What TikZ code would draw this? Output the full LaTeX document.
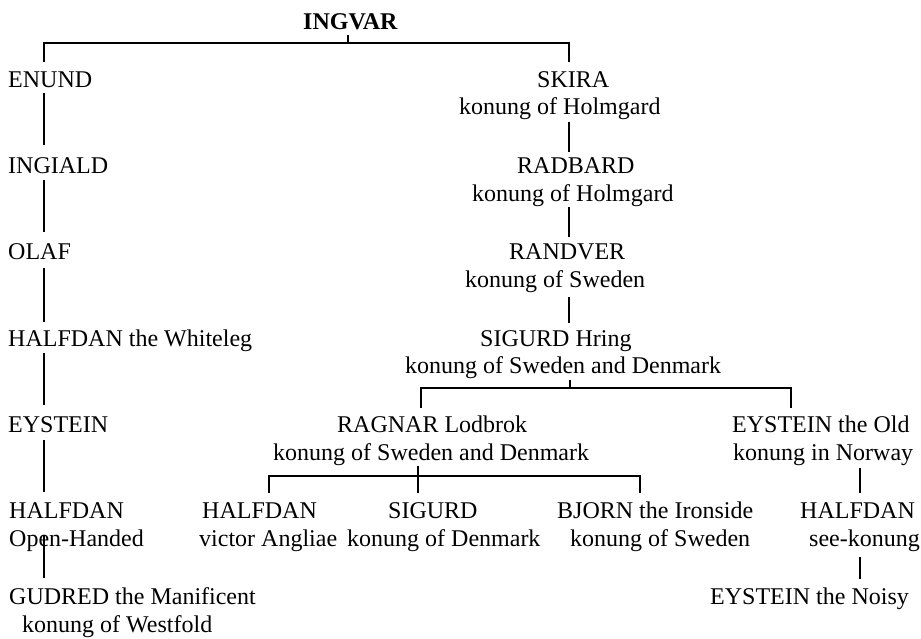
\documentclass[tikz,border=0pt]{standalone}
\usepackage{fontspec}
\setmainfont{Liberation Serif}
\usetikzlibrary{calc}
\begin{document}
\begin{tikzpicture}[x=1pt,y=-1pt,
  txt/.style={anchor=base west,inner sep=0pt,font=\fontsize{24}{28}\selectfont},
  conn/.style={draw=black,line width=1.9pt}]
\useasboundingbox[fill=white] (0,0) rectangle (921,638);
% rows of baselines: 87,173,259,346,432,518,604 ; second lines +27.5
\node[txt,font=\fontsize{24}{28}\selectfont\bfseries] (ingvar) at (303,29) {INGVAR};
% left line
\node[txt] (enund) at (8,87) {ENUND};
\node[txt] (ingiald) at (8,173) {INGIALD};
\node[txt] (olaf) at (8,259) {OLAF};
\node[txt] (halfw) at (8,346) {HALFDAN the Whiteleg};
\node[txt] (eyst) at (8,432) {EYSTEIN};
\node[txt] (halfo) at (9,518) {HALFDAN};
\node[txt] (halfot) at (9,546) {Open-Handed};
\node[txt] (gudred) at (9,604) {GUDRED the Manificent};
\node[txt] (gudredt) at (22,632) {konung of Westfold};
% right line
\node[txt] (skira) at (537,87) {SKIRA};
\node[txt] (skirat) at (459,114) {konung of Holmgard};
\node[txt] (radbard) at (517,173) {RADBARD};
\node[txt] (radbardt) at (472,201) {konung of Holmgard};
\node[txt] (randver) at (509,259) {RANDVER};
\node[txt] (randvert) at (465,287) {konung of Sweden};
\node[txt] (sigurdh) at (480,346) {SIGURD Hring};
\node[txt] (sigurdht) at (405,373) {konung of Sweden and Denmark};
\node[txt] (ragnar) at (337,432) {RAGNAR Lodbrok};
\node[txt] (ragnart) at (273,460) {konung of Sweden and Denmark};
\node[txt] (eystold) at (732,432) {EYSTEIN the Old};
\node[txt] (eystoldt) at (733,460) {konung in Norway};
\node[txt] (halfv) at (202,518) {HALFDAN};
\node[txt] (halfvt) at (199,546) {victor Angliae};
\node[txt] (sigurdd) at (388,518) {SIGURD};
\node[txt] (sigurddt) at (347,546) {konung of Denmark};
\node[txt] (bjorn) at (557,518) {BJORN the Ironside};
\node[txt] (bjornt) at (570,546) {konung of Sweden};
\node[txt] (halfs) at (800,518) {HALFDAN};
\node[txt] (halfst) at (809,546) {see-konung};
\node[txt] (eystn) at (710,604) {EYSTEIN the Noisy};
% trunk positions and junctions
\coordinate (lx) at (44,0);
\coordinate (rx) at (569,0);
\coordinate (j0) at (348,43);
\coordinate (j1) at (570,388);
\coordinate (rgx) at (421,0);
\coordinate (eox) at (791,0);
\coordinate (j2) at (418,476);
\coordinate (hvx) at (269,0);
\coordinate (bjx) at (640,0);
\coordinate (nx) at (860,0);
% INGVAR
\draw[conn] ($(ingvar.base -| j0)+(0,6)$) -- (j0);
\draw[conn] ($(enund.base -| lx)+(0,-25)$) |- (j0) -| ($(skira.base -| rx)+(0,-25)$);
% left trunk
\draw[conn] ($(enund.base -| lx)+(0,6)$) -- ($(ingiald.base -| lx)+(0,-28)$);
\draw[conn] ($(ingiald.base -| lx)+(0,7)$) -- ($(olaf.base -| lx)+(0,-27)$);
\draw[conn] ($(olaf.base -| lx)+(0,9)$) -- ($(halfw.base -| lx)+(0,-24)$);
\draw[conn] ($(halfw.base -| lx)+(0,7)$) -- ($(eyst.base -| lx)+(0,-27)$);
\draw[conn] ($(eyst.base -| lx)+(0,8)$) -- ($(halfo.base -| lx)+(0,-26)$);
\draw[conn] ($(halfo.base -| lx)+(0,17)$) -- ($(gudred.base -| lx)+(0,-26)$);
% right trunk
\draw[conn] ($(skirat.base -| rx)+(0,8)$) -- ($(radbard.base -| rx)+(0,-21)$);
\draw[conn] ($(radbardt.base -| rx)+(0,6)$) -- ($(randver.base -| rx)+(0,-22)$);
\draw[conn] ($(randvert.base -| rx)+(0,10)$) -- ($(sigurdh.base -| rx)+(0,-23)$);
% SIGURD Hring children
\draw[conn] ($(sigurdht.base -| j1)+(0,7)$) -- (j1);
\draw[conn] ($(ragnar.base -| rgx)+(0,-24)$) |- (j1) -| ($(eystold.base -| eox)+(0,-24)$);
% RAGNAR children
\draw[conn] ($(ragnart.base -| j2)+(0,6)$) -- ($(sigurdd.base -| j2)+(0,-25)$);
\draw[conn] ($(halfv.base -| hvx)+(0,-25)$) |- (j2) -| ($(bjorn.base -| bjx)+(0,-25)$);
% EYSTEIN the Old line
\draw[conn] ($(eystoldt.base -| nx)+(0,8)$) -- ($(halfs.base -| nx)+(0,-25)$);
\draw[conn] ($(halfst.base -| nx)+(0,11)$) -- ($(eystn.base -| nx)+(0,-25)$);
\end{tikzpicture}
\end{document}
